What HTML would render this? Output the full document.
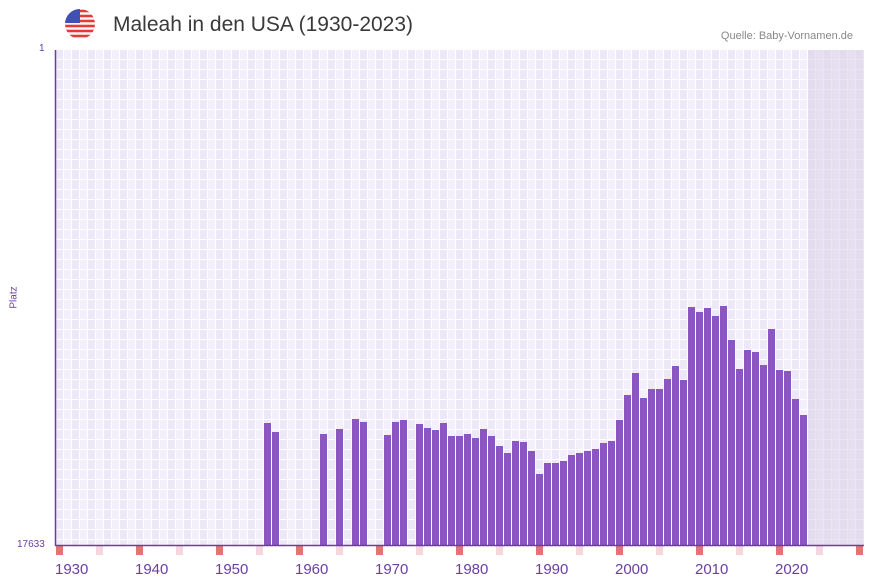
<!DOCTYPE html>
<html><head><meta charset="utf-8"><style>
body{margin:0;width:873px;height:587px;background:#fff;font-family:"Liberation Sans",sans-serif;position:relative;overflow:hidden}
.t{position:absolute;white-space:nowrap}
</style></head><body>
<svg width="873" height="587" style="position:absolute;left:0;top:0">
<defs>
<pattern id="g" x="56" y="50" width="16" height="10" patternUnits="userSpaceOnUse">
<rect width="16" height="10" fill="#fff"/>
<rect x="0" y="0" width="7" height="9" fill="#ede8f8"/>
<rect x="8" y="0" width="7" height="9" fill="#f3f0fb"/>
</pattern>
<clipPath id="fc"><circle cx="80" cy="24" r="15"/></clipPath>
</defs>
<rect x="56" y="50" width="808" height="495" fill="url(#g)"/>
<rect x="808" y="50" width="56" height="495" fill="#d8d2e6" opacity="0.55"/>
<g clip-path="url(#fc)">
<rect x="64" y="8" width="32" height="32" fill="#f5f5f5"/>
<path d="M64,11 h32 M64,16 h32 M64,21 h32 M64,26 h32 M64,31 h32 M64,36 h32" stroke="#e53935" stroke-width="2.5"/>
<rect x="64" y="8" width="16" height="15" fill="#3f51b5"/>
</g>
<g id="bars" fill="#8b55c6"></g>
<g id="mk"></g>
<line x1="55.5" y1="50" x2="55.5" y2="546" stroke="#6a3fa0" stroke-width="1.5"/>
<line x1="55" y1="545.5" x2="864" y2="545.5" stroke="#6a3fa0" stroke-width="1.5"/>
</svg>
<div class="t" style="left:113px;top:13px;font-size:21px;color:#3a3a3a">Maleah in den USA (1930-2023)</div>
<div class="t" style="right:20px;top:30px;font-size:11px;color:#888">Quelle: Baby-Vornamen.de</div>
<div class="t" style="left:39px;top:43px;font-size:10px;color:#6a3fa0">1</div>
<div class="t" style="left:17px;top:539px;font-size:10px;color:#6a3fa0">17633</div>
<div class="t" style="left:3px;top:292px;font-size:10px;color:#6a3fa0;transform:rotate(-90deg)">Platz</div>
<div id="lbl"></div>
<script>
var d={26:423,27:432,33:434,35:429,37:419,38:422,41:435,42:422,43:420,45:424,46:428,47:430,48:423,49:436,50:436,51:434,52:438,53:429,54:436,55:446,56:453,57:441,58:442,59:451,60:474,61:463,62:463,63:461,64:455,65:453,66:451,67:449,68:443,69:441,70:420,71:395,72:373,73:398,74:389,75:389,76:379,77:366,78:380,79:307,80:312,81:308,82:316,83:306,84:340,85:369,86:350,87:352,88:365,89:329,90:370,91:371,92:399,93:415};
var s='';for(var k in d){var x=56+8*k;s+='<rect x="'+x+'" y="'+d[k]+'" width="7" height="'+(545-d[k])+'"/>';}
document.getElementById('bars').innerHTML=s;
var m='';for(var i=0;i<=100;i+=5){m+='<rect x="'+(56+8*i)+'" y="546" width="7" height="9" fill="'+(i%10==0?'#e57373':'#f5d6dd')+'"/>';}
document.getElementById('mk').innerHTML=m;
var l='';for(var y=1930;y<=2020;y+=10){l+='<div class="t" style="left:'+(55+(y-1930)*8)+'px;top:561px;font-size:15px;color:#6a3fa0">'+y+'</div>';}
document.getElementById('lbl').innerHTML=l;
</script>
</body></html>
